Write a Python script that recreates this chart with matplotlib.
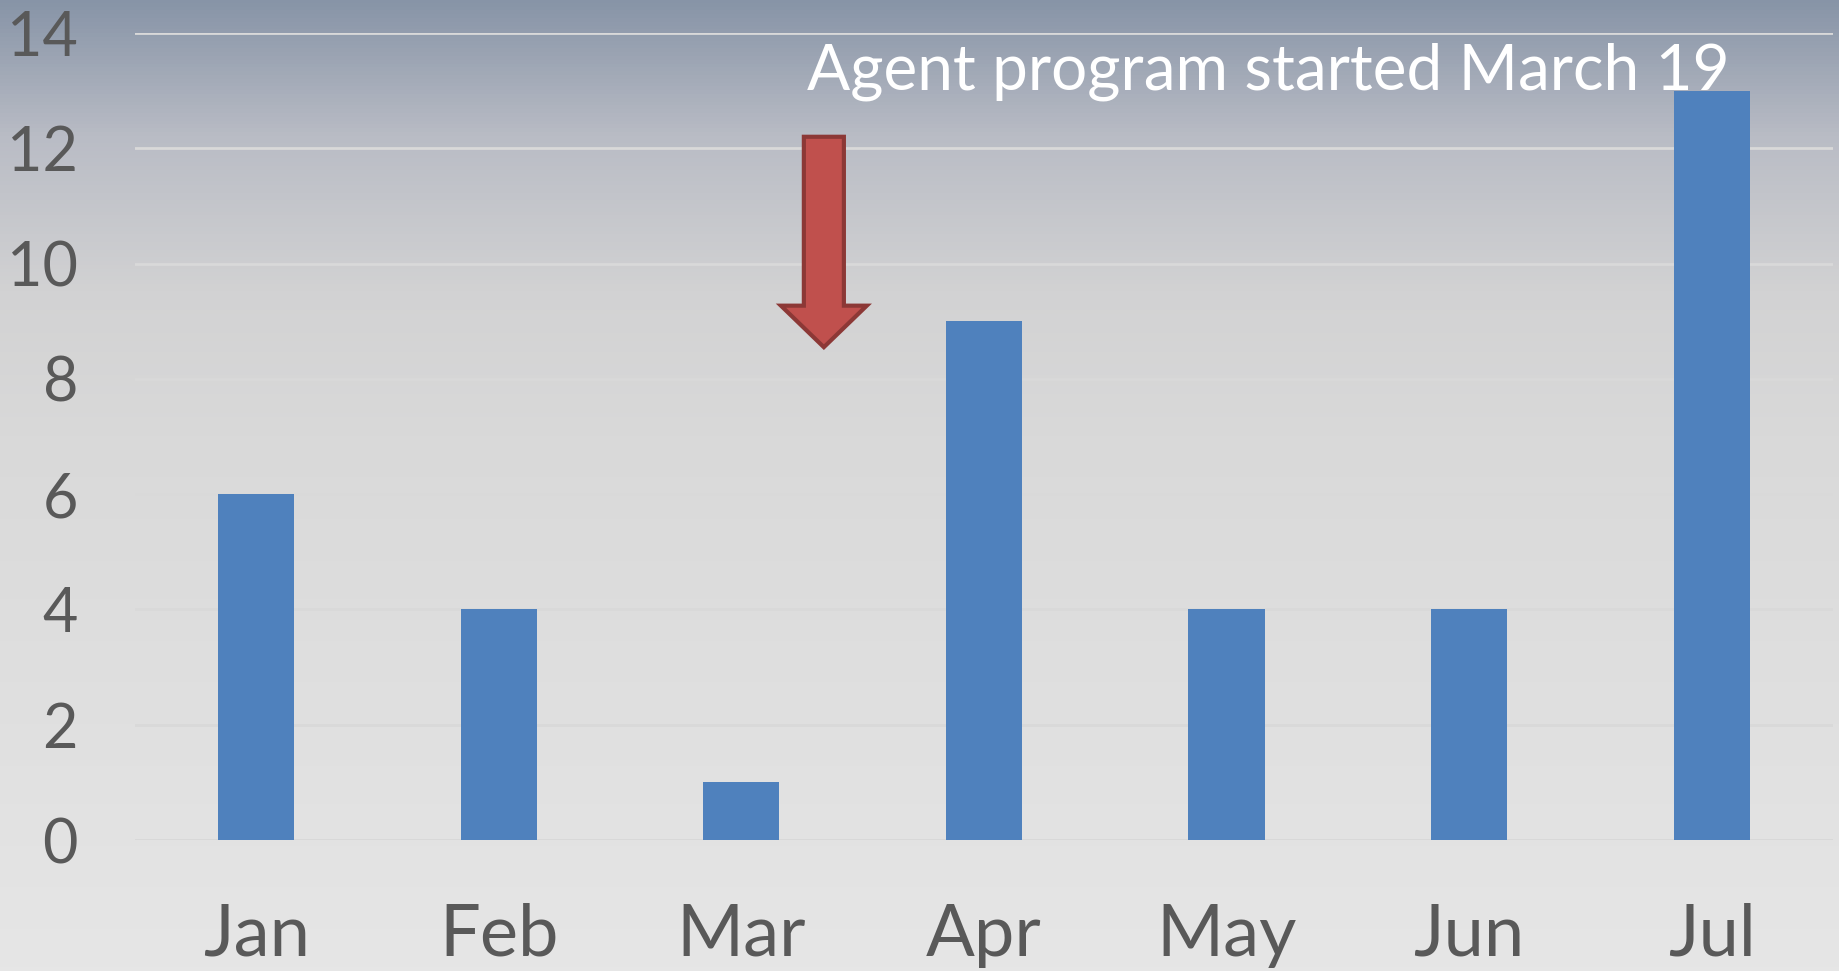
import numpy as np
import matplotlib
matplotlib.use("Agg")
import matplotlib.pyplot as plt
from matplotlib.colors import LinearSegmentedColormap
from matplotlib.patches import FancyArrow

# monthly counts
months = ["Jan", "Feb", "Mar", "Apr", "May", "Jun", "Jul"]
counts = [6, 4, 1, 9, 4, 4, 13]
y_ticks = [0, 2, 4, 6, 8, 10, 12, 14]
note = "Agent program started March 19"

plt.rcParams['font.family'] = ['Lato', 'DejaVu Sans']

fig = plt.figure(figsize=(18.39, 9.71), dpi=100)

# background gradient (blue-grey at top fading to light grey)
bg = fig.add_axes([0, 0, 1, 1], zorder=-10)
grad_cmap = LinearSegmentedColormap.from_list(
    "bg", [(0.0, "#e6e6e6"), (0.55, "#d9d9d9"), (0.70, "#d2d2d3"),
           (0.86, "#b9bcc5"), (1.0, "#8794a7")])
bg.imshow(np.linspace(0, 1, 256).reshape(-1, 1), aspect="auto", cmap=grad_cmap,
          origin="lower", extent=[0, 1, 0, 1])
bg.set_axis_off()

ax = fig.add_axes([0.0734, 0.1349, 0.9233, 0.8311])
ax.patch.set_alpha(0)

x = np.arange(len(months))
ax.bar(x, counts, width=0.314, color="#4f81bd", zorder=3)

ax.set_xlim(-0.5, len(months) - 0.5)
ax.set_ylim(0, 14)
ax.set_yticks(y_ticks)
ax.set_xticks(x)
ax.set_xticklabels(months)
ax.grid(axis="y", color="#d9d9d9", linewidth=2, zorder=0)
for s in ax.spines.values():
    s.set_visible(False)
ax.axhline(0, color="#d0d0d0", linewidth=2, zorder=1)
ax.tick_params(axis="both", length=0, labelcolor="#595959", labelsize=44)
ax.tick_params(axis="y", pad=41)
ax.tick_params(axis="x", pad=45, labelsize=52)

# red arrow pointing down near March
ax.add_patch(FancyArrow(2.34, 12.2, 0, -3.65, width=0.165, head_width=0.354,
                        head_length=0.72, length_includes_head=True,
                        facecolor="#c0504d", edgecolor="#8c3836", linewidth=3,
                        zorder=4))

ax.text(2.27, 13.33, note, color="white", fontsize=46, ha="left", va="center",
        zorder=5)

fig.savefig("out.png", dpi=100)
